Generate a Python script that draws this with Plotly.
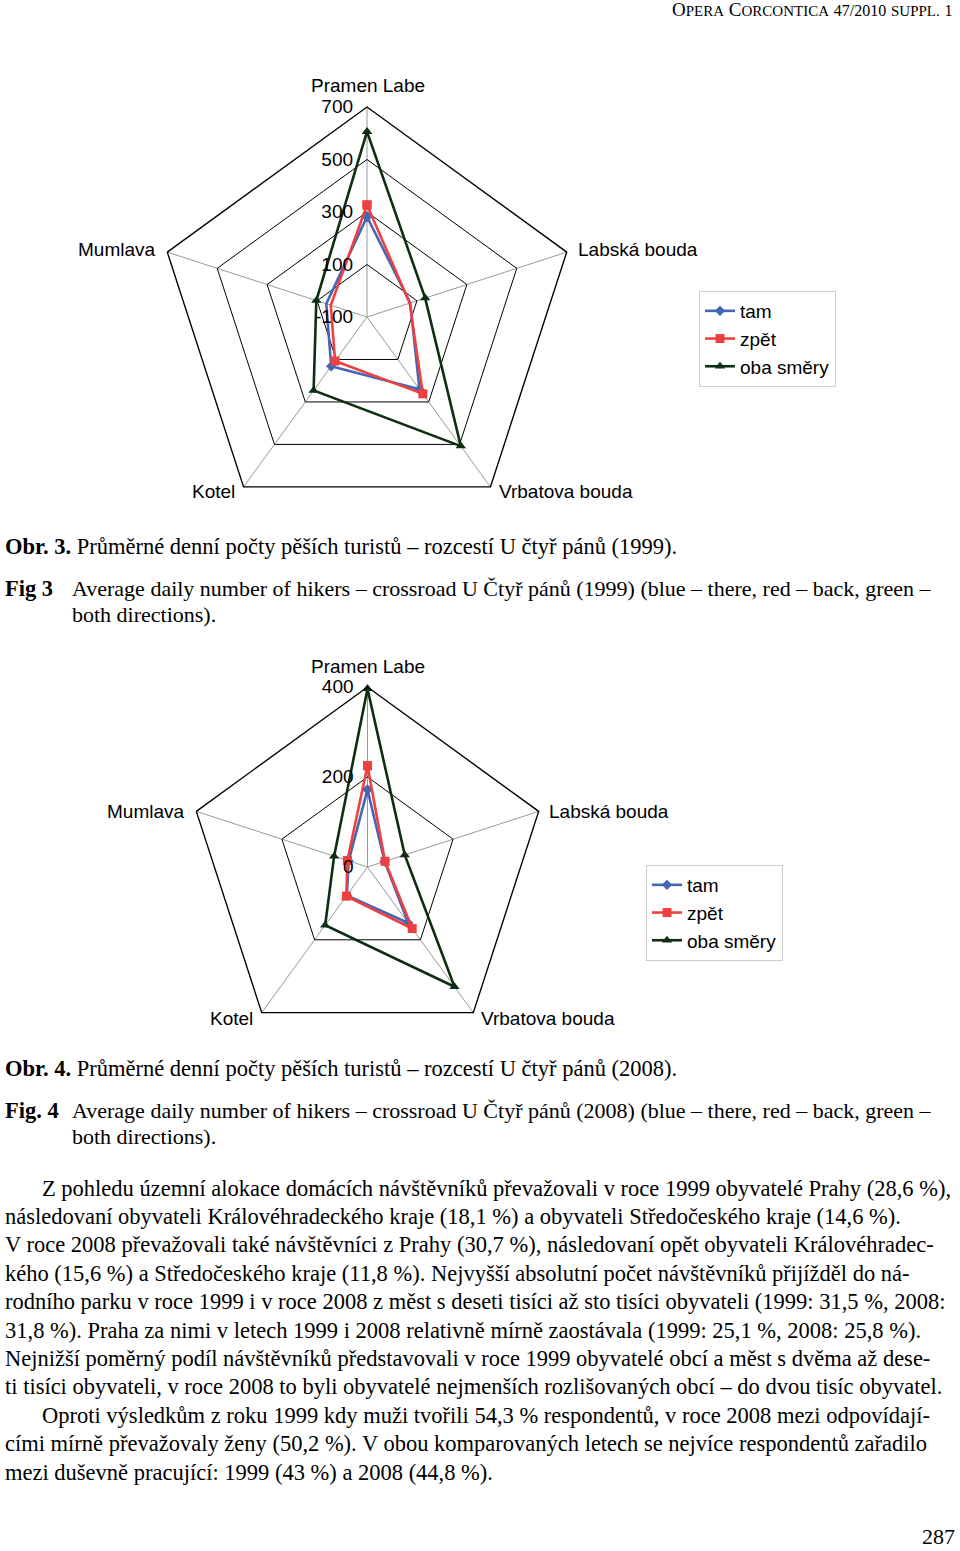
import plotly.graph_objects as go

W, H = 960, 1551

# ---- data -------------------------------------------------------------
places = ["Pramen Labe", "Labská bouda", "Vrbatova bouda", "Kotel", "Mumlava"]
series_names = ["tam", "zpět", "oba směry"]

# Obr. 3 (1999)
tam_1999 = [282, 73, 240, 132, 63]
zpet_1999 = [327, 71, 262, 107, 45]
oba_1999 = [606, 133, 508, 246, 103]
ticks_1999 = [-100, 100, 300, 500, 700]

# Obr. 4 (2008)
tam_2008 = [172, 40, 154, 78, 44]
zpet_2008 = [225, 41, 169, 80, 47]
oba_2008 = [396, 87, 329, 160, 78]
ticks_2008 = [0, 200, 400]

colors = ["#4565b5", "#ee4040", "#0e2e12"]
symbols = ["diamond", "square", "triangle-up"]
msizes = [8, 9, 9]

SANS = "Liberation Sans, Arial, sans-serif"
SERIF = "Liberation Serif, Times New Roman, serif"


def px_x(x):
    # page pixel -> paper fraction
    return x / W


def px_y(y):
    return 1 - y / H


fig = go.Figure()

for polar, legend, values in [
    ("polar", "legend", [tam_1999, zpet_1999, oba_1999]),
    ("polar2", "legend2", [tam_2008, zpet_2008, oba_2008]),
]:
    for name, vals, col, sym, ms in zip(series_names, values, colors, symbols, msizes):
        fig.add_trace(go.Scatterpolar(
            r=vals + vals[:1], theta=places + places[:1], name=name,
            mode="lines+markers", subplot=polar, legend=legend,
            line=dict(color=col, width=2.6),
            marker=dict(symbol=sym, size=ms, color=col),
        ))


def polar_layout(cx, cy, rad, ticks):
    # invisible trailing digit pushes the labels a bit left of the axis
    pad = "<span style='color:rgba(0,0,0,0)'>0</span>"
    return dict(
        domain=dict(x=[px_x(cx - rad), px_x(cx + rad)],
                    y=[px_y(cy + rad), px_y(cy - rad)]),
        gridshape="linear",
        bgcolor="white",
        angularaxis=dict(
            rotation=90, direction="clockwise", showticklabels=False,
            ticks="", showline=True, linecolor="black", linewidth=1.4,
            gridcolor="#999999", gridwidth=0.8,
        ),
        radialaxis=dict(
            range=[ticks[0], ticks[-1]], tickvals=ticks,
            ticktext=[str(t) + pad for t in ticks],
            angle=90, tickangle=90,
            side="counterclockwise", ticks="", showline=False,
            gridcolor="black", gridwidth=1.4,
            tickfont=dict(family=SANS, size=19, color="black"),
        ),
    )


legend_style = dict(
    font=dict(family=SANS, size=19, color="black"),
    bgcolor="white", bordercolor="#cccccc", borderwidth=1,
    xanchor="left", yanchor="top",
)

fig.update_layout(
    width=W, height=H,
    margin=dict(l=0, r=0, t=0, b=0),
    paper_bgcolor="white",
    polar=polar_layout(367, 317, 210, ticks_1999),
    polar2=polar_layout(367.5, 867, 180, ticks_2008),
    legend=dict(x=px_x(699), y=px_y(291), **legend_style),
    legend2=dict(x=px_x(646), y=px_y(865), **legend_style),
    showlegend=True,
)

annotations = []


def note(text, x, y, size, family=SERIF, xanchor="left"):
    annotations.append(dict(
        text=text, x=px_x(x), y=px_y(y), xref="paper", yref="paper",
        xanchor=xanchor, yanchor="middle", showarrow=False,
        font=dict(family=family, size=size, color="black"),
    ))


# category labels around the radar charts
label_pos_1999 = [(368, 85, "center"), (576, 250, "left"), (497, 492, "left"),
                  (237, 492, "right"), (158, 250, "right")]
label_pos_2008 = [(368, 666, "center"), (547, 811, "left"), (479, 1018, "left"),
                  (255, 1018, "right"), (187, 811, "right")]
for pos in (label_pos_1999, label_pos_2008):
    for name, (x, y, anc) in zip(places, pos):
        note(name, x, y, 19, family=SANS, xanchor=anc)

# page header (small caps, old-style looking figures)
sc = "<span style='font-size:15px'>%s</span>"
fig_sty = "<span style='font-size:16px'>%s</span>"
note("O" + sc % "PERA" + " C" + sc % "ORCONTICA" + " " + fig_sty % "47/2010"
     + " " + sc % "SUPPL." + " " + fig_sty % "1",
     955, 9, 19, xanchor="right")

# captions
FS = 22.5
note("<b>Obr. 3.</b> Průměrné denní počty pěších turistů – rozcestí U čtyř pánů (1999).",
     3, 546, FS)
note("<b>Fig 3</b>", 3, 588, FS)
note("Average daily number of hikers – crossroad U Čtyř pánů (1999) (blue – there, red – back, green –",
     70, 588, 22)
note("both directions).", 70, 614, 22)

note("<b>Obr. 4.</b> Průměrné denní počty pěších turistů – rozcestí U čtyř pánů (2008).",
     3, 1068, FS)
note("<b>Fig. 4</b>", 3, 1110, FS)
note("Average daily number of hikers – crossroad U Čtyř pánů (2008) (blue – there, red – back, green –",
     70, 1110, 22)
note("both directions).", 70, 1136, 22)

# body text
body = [
    (40, "Z pohledu územní alokace domácích návštěvníků převažovali v roce 1999 obyvatelé Prahy (28,6 %),"),
    (3, "následovaní obyvateli Královéhradeckého kraje (18,1 %) a obyvateli Středočeského kraje (14,6 %)."),
    (3, "V roce 2008 převažovali také návštěvníci z Prahy (30,7 %), následovaní opět obyvateli Královéhradec-"),
    (3, "kého (15,6 %) a Středočeského kraje (11,8 %). Nejvyšší absolutní počet návštěvníků přijížděl do ná-"),
    (3, "rodního parku v roce 1999 i v roce 2008 z měst s deseti tisíci až sto tisíci obyvateli (1999: 31,5 %, 2008:"),
    (3, "31,8 %). Praha za nimi v letech 1999 i 2008 relativně mírně zaostávala (1999: 25,1 %, 2008: 25,8 %)."),
    (3, "Nejnižší poměrný podíl návštěvníků představovali v roce 1999 obyvatelé obcí a měst s dvěma až dese-"),
    (3, "ti tisíci obyvateli, v roce 2008 to byli obyvatelé nejmenších rozlišovaných obcí – do dvou tisíc obyvatel."),
    (40, "Oproti výsledkům z roku 1999 kdy muži tvořili 54,3 % respondentů, v roce 2008 mezi odpovídají-"),
    (3, "cími mírně převažovaly ženy (50,2 %). V obou komparovaných letech se nejvíce respondentů zařadilo"),
    (3, "mezi duševně pracující: 1999 (43 %) a 2008 (44,8 %)."),
]
for i, (x, line) in enumerate(body):
    note(line, x, 1188 + i * 28.4, FS)

note("287", 957, 1536, 22, xanchor="right")

fig.update_layout(annotations=annotations)
# drop the browser's default 8px body margin so the figure fills the page
fig.write_html("out.html", config={"displayModeBar": False},
               post_script="document.body.style.margin = '0px';")
